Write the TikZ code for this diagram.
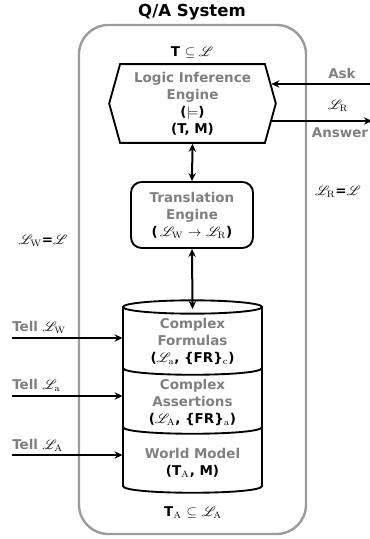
\documentclass[tikz,border=0pt]{standalone}
\usepackage[no-math]{fontspec}
\setmainfont{DejaVu Sans}
\usepackage{mathrsfs}
\usetikzlibrary{shapes.symbols, arrows.meta, positioning}
\definecolor{textgray}{RGB}{128,128,128}
\definecolor{framegray}{RGB}{155,155,155}
\newcommand{\nm}[1]{\textcolor{textgray}{#1}}
\newcommand{\Ls}[1]{\ensuremath{\mathscr{L}_{\mathrm{#1}}}}

\begin{document}
\begin{tikzpicture}[
    x=0.75pt, y=-0.75pt,
    every node/.style={font=\fontsize{10.1}{12.8}\selectfont\bfseries, align=center, inner sep=0pt},
    engine/.style={signal, signal to=west and east, signal pointer angle=149, draw, line width=1.4pt, minimum width=125pt, minimum height=59pt},
    translator/.style={draw, rounded corners=8pt, line width=1.4pt, minimum width=91.5pt, minimum height=49.5pt},
    section/.style={minimum width=104.5pt},
    link/.style={draw, line width=1.5pt, {Stealth[length=6pt,width=5.5pt]}-{Stealth[length=6pt,width=5.5pt]}},
    feed/.style={draw, line width=1.5pt, -{Stealth[length=6pt,width=5.5pt]}}
]

\useasboundingbox (0,0) rectangle (370,539);

% System boundary
\draw[framegray, line width=1.8pt, rounded corners=22pt] (79,25) rectangle (306,534);
\node[font=\fontsize{12.4}{14}\selectfont\bfseries] (title) at (192,12) {Q/A System};

% Logic Inference Engine
\node (theory) at (192,52) {T $\subseteq \mathscr{L}$};
\node[engine] (hex) at (192.5,103.5) {\nm{Logic Inference}\\\nm{Engine}\\($\models$)\\(T, M)};

% Translation Engine
\node[translator] (trans) at (192,215) {\nm{Translation}\\\nm{Engine}\\(\,\Ls{W} $\rightarrow$ \Ls{R})};

% Knowledge base cylinder
\draw[line width=1.4pt] (192.5,307) ellipse [x radius=52.2pt, y radius=5pt];
\draw[line width=1.4pt] (123,307) -- (123,486) .. controls (123,495) and (262,495) .. (262,486) -- (262,307);
\draw[line width=1.4pt] (123,368) .. controls (123,377) and (262,377) .. (262,368);
\draw[line width=1.4pt] (123,427) .. controls (123,436) and (262,436) .. (262,427);
\coordinate (cyltop) at (192.5,309);

\node[section] (formulas) at (192.5,341.5) {\nm{Complex}\\\nm{Formulas}\\(\Ls{a}, \{FR\}$_{\mathrm{c}}$)};
\node[section] (assertions) at (192.5,402.5) {\nm{Complex}\\\nm{Assertions}\\(\Ls{A}, \{FR\}$_{\mathrm{a}}$)};
\node[section] (world) at (192.5,462.5) {\nm{World Model}\\(T$_{\mathrm{A}}$, M)};
\node (assert) at (193,513) {T$_{\mathrm{A}}$ $\subseteq$ \Ls{A}};

% Internal links
\draw[link] (hex.south) -- (trans.north);
\draw[link] (trans.south) -- (cyltop);

% Ask / Answer
\coordinate (askin) at (370,84);
\coordinate (answerout) at (372,121);
\draw[feed] (askin) -- (askin -| hex.14);
\draw[feed] (answerout -| hex.-12) -- (answerout);
\node (ask) at (342,73) {\nm{Ask}};
\node (lr) at (338,106) {\Ls{R}};
\node (answer) at (340,133) {\nm{Answer}};
\node (lreq) at (338,192) {\Ls{R}=$\mathscr{L}$};
\node (lweq) at (43,241) {\Ls{W}=$\mathscr{L}$};

% Tell inputs
\coordinate (tellw) at (12,338);
\coordinate (tella) at (12,396);
\coordinate (tellA) at (12,455);
\draw[feed] (tellw) -- (tellw -| formulas.west);
\draw[feed] (tella) -- (tella -| assertions.west);
\draw[feed] (tellA) -- (tellA -| world.west);
\node[anchor=west] (tellwtxt) at (12,327) {\nm{Tell} \Ls{W}};
\node[anchor=west] (tellatxt) at (12,385) {\nm{Tell} \Ls{a}};
\node[anchor=west] (tellAtxt) at (12,445) {\nm{Tell} \Ls{A}};

\end{tikzpicture}
\end{document}
